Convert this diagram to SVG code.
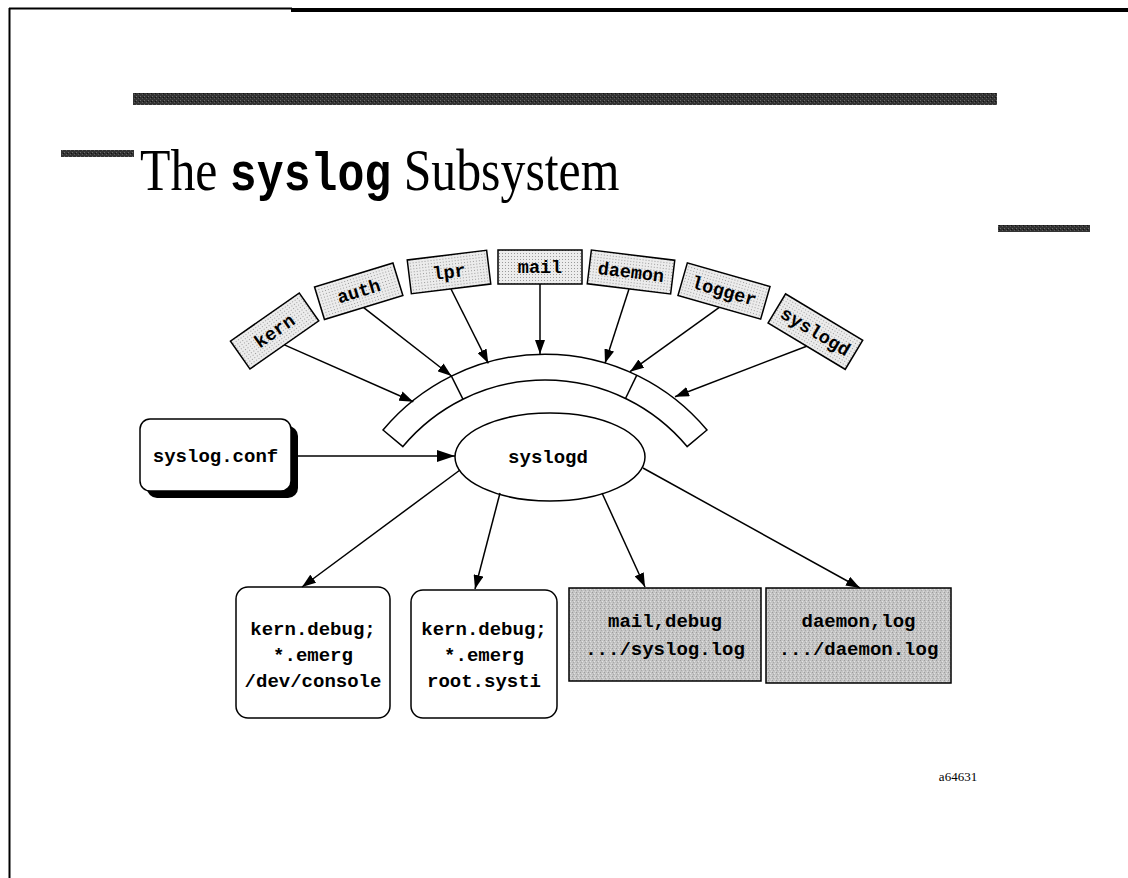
<svg xmlns="http://www.w3.org/2000/svg" width="1128" height="878" viewBox="0 0 1128 878">
  <defs>
    <style>
      .frame { stroke: #000; fill: none; }
      .bar { fill: url(#darkgrain); }
      .src rect { fill: url(#dots); stroke: #000; stroke-width: 1.5; }
      .src text { font-family: "Liberation Mono", "DejaVu Sans Mono", monospace; font-weight: bold; font-size: 18.5px; text-anchor: middle; fill: #000; }
      .mono { font-family: "Liberation Mono", "DejaVu Sans Mono", monospace; font-weight: bold; font-size: 19px; text-anchor: middle; fill: #000; }
      .conn line { stroke: #000; stroke-width: 1.5; marker-end: url(#arrow); }
      .outline { fill: #fff; stroke: #000; stroke-width: 1.5; }
      .shade { fill: url(#grain); stroke: #000; stroke-width: 1.5; }
    </style>
    <!-- light stipple for the message sources -->
    <pattern id="dots" width="3" height="3" patternUnits="userSpaceOnUse">
      <rect width="3" height="3" fill="#ececec"/>
      <rect x="1" y="1" width="1" height="1" fill="#9a9a9a"/>
    </pattern>
    <!-- mid-grey grain for the log file boxes -->
    <pattern id="grain" width="4" height="4" patternUnits="userSpaceOnUse">
      <rect width="4" height="4" fill="#c4c4c4"/>
      <rect x="0" y="0" width="1" height="1" fill="#9c9c9c"/>
      <rect x="2" y="1" width="1" height="1" fill="#e2e2e2"/>
      <rect x="1" y="2" width="1" height="1" fill="#a8a8a8"/>
      <rect x="3" y="3" width="1" height="1" fill="#dadada"/>
    </pattern>
    <!-- dark grain for the header rules -->
    <pattern id="darkgrain" width="4" height="4" patternUnits="userSpaceOnUse">
      <rect width="4" height="4" fill="#333"/>
      <rect x="0" y="0" width="1" height="1" fill="#6a6a6a"/>
      <rect x="2" y="2" width="1" height="1" fill="#5a5a5a"/>
      <rect x="3" y="1" width="1" height="1" fill="#111"/>
    </pattern>
    <marker id="arrow" markerUnits="userSpaceOnUse" markerWidth="15" markerHeight="10" refX="14" refY="5" orient="auto">
      <path d="M0,0 L14,5 L0,10 Z" fill="#000"/>
    </marker>
    <marker id="arrowBig" markerUnits="userSpaceOnUse" markerWidth="19" markerHeight="12" refX="18" refY="6" orient="auto">
      <path d="M0,0 L18,6 L0,12 Z" fill="#000"/>
    </marker>
  </defs>

  <rect width="1128" height="878" fill="#fff"/>

  <!-- page frame and header rules -->
  <g id="frame">
    <line class="frame" x1="9" y1="8.5" x2="292" y2="8.5" stroke-width="2"/>
    <line class="frame" x1="291" y1="10" x2="1128" y2="10" stroke-width="4"/>
    <line class="frame" x1="9.5" y1="8" x2="9.5" y2="878" stroke-width="2"/>
    <rect class="bar" x="133" y="93" width="864" height="12"/>
    <rect class="bar" x="61" y="150" width="73" height="7"/>
    <rect class="bar" x="998" y="225" width="92" height="7"/>
  </g>

  <!-- title -->
  <g id="title" transform="translate(140,190) scale(0.83,1)">
    <text x="0" y="0" font-family="Liberation Serif, Times New Roman, serif" font-size="60" fill="#000">The <tspan font-family="Liberation Mono, Courier New, monospace" font-weight="bold" font-size="54">syslog</tspan> Subsystem</text>
  </g>

  <!-- message sources -->
  <g id="src-kern" class="src" transform="translate(274.6,331) rotate(-35)">
    <rect x="-42" y="-17" width="84" height="34"/>
    <text x="0" y="6">kern</text>
  </g>
  <g id="src-auth" class="src" transform="translate(358.7,291.3) rotate(-17)">
    <rect x="-41" y="-17" width="82" height="34"/>
    <text x="0" y="6">auth</text>
  </g>
  <g id="src-lpr" class="src" transform="translate(449,272) rotate(-7)">
    <rect x="-40" y="-17" width="80" height="34"/>
    <text x="0" y="6">lpr</text>
  </g>
  <g id="src-mail" class="src" transform="translate(540,267)">
    <rect x="-42" y="-17" width="84" height="34"/>
    <text x="0" y="6">mail</text>
  </g>
  <g id="src-daemon" class="src" transform="translate(631,272) rotate(7)">
    <rect x="-42" y="-17" width="84" height="34"/>
    <text x="0" y="6">daemon</text>
  </g>
  <g id="src-logger" class="src" transform="translate(724,291) rotate(16)">
    <rect x="-43" y="-17" width="86" height="34"/>
    <text x="0" y="6">logger</text>
  </g>
  <g id="src-syslogd" class="src" transform="translate(815.4,331.6) rotate(31)">
    <rect x="-45" y="-17" width="90" height="34"/>
    <text x="0" y="6">syslogd</text>
  </g>

  <!-- curved input band around the daemon -->
  <g id="band">
    <path class="outline" d="M383,430 A211,211 0 0 1 707,430 L687.1,446.6 A185,185 0 0 0 402.9,446.6 Z"/>
    <line x1="451.3" y1="375.9" x2="462.9" y2="399.2" stroke="#000" stroke-width="1.5"/>
    <line x1="636.8" y1="375.1" x2="625.5" y2="398.5" stroke="#000" stroke-width="1.5"/>
  </g>

  <!-- configuration file -->
  <g id="conf">
    <rect x="147" y="426" width="151" height="72" rx="10" fill="#000"/>
    <rect class="outline" x="140" y="419" width="151" height="72" rx="10"/>
    <text class="mono" x="215.5" y="462">syslog.conf</text>
  </g>

  <!-- daemon -->
  <g id="daemon">
    <ellipse class="outline" cx="550" cy="457" rx="95" ry="44"/>
    <text class="mono" x="548" y="463">syslogd</text>
  </g>

  <!-- destinations -->
  <g id="dest-console">
    <rect class="outline" x="236" y="587" width="154" height="131" rx="12"/>
    <text class="mono" x="313" y="635">kern.debug;</text>
    <text class="mono" x="313" y="661">*.emerg</text>
    <text class="mono" x="313" y="687">/dev/console</text>
  </g>
  <g id="dest-user">
    <rect class="outline" x="411" y="590" width="146" height="128" rx="12"/>
    <text class="mono" x="484" y="635">kern.debug;</text>
    <text class="mono" x="484" y="661">*.emerg</text>
    <text class="mono" x="484" y="687">root.systi</text>
  </g>
  <g id="dest-syslog">
    <rect class="shade" x="569" y="588" width="192" height="93"/>
    <text class="mono" x="665" y="627">mail,debug</text>
    <text class="mono" x="665" y="655">.../syslog.log</text>
  </g>
  <g id="dest-daemonlog">
    <rect class="shade" x="766" y="588" width="185" height="95"/>
    <text class="mono" x="858.5" y="627">daemon,log</text>
    <text class="mono" x="858.5" y="655">.../daemon.log</text>
  </g>

  <!-- connectors -->
  <g id="connectors" class="conn">
    <line x1="284.4" y1="344.9" x2="413.3" y2="401.7"/>
    <line x1="363.7" y1="307.6" x2="451.5" y2="376"/>
    <line x1="451" y1="289" x2="488.3" y2="363.3"/>
    <line x1="540" y1="284" x2="540" y2="354"/>
    <line x1="629" y1="289" x2="605" y2="363.3"/>
    <line x1="719.3" y1="307.3" x2="630" y2="371.7"/>
    <line x1="806.6" y1="346.2" x2="675" y2="396.7"/>
    <line x1="298" y1="456" x2="455" y2="456" style="marker-end:url(#arrowBig)"/>
    <line x1="460" y1="470" x2="302" y2="587"/>
    <line x1="500" y1="493" x2="475" y2="589"/>
    <line x1="602" y1="493" x2="645" y2="587"/>
    <line x1="643" y1="468" x2="860" y2="588"/>
  </g>

  <text x="958" y="781" font-family="Liberation Serif, Times New Roman, serif" font-size="13" text-anchor="middle" fill="#000">a64631</text>
</svg>
